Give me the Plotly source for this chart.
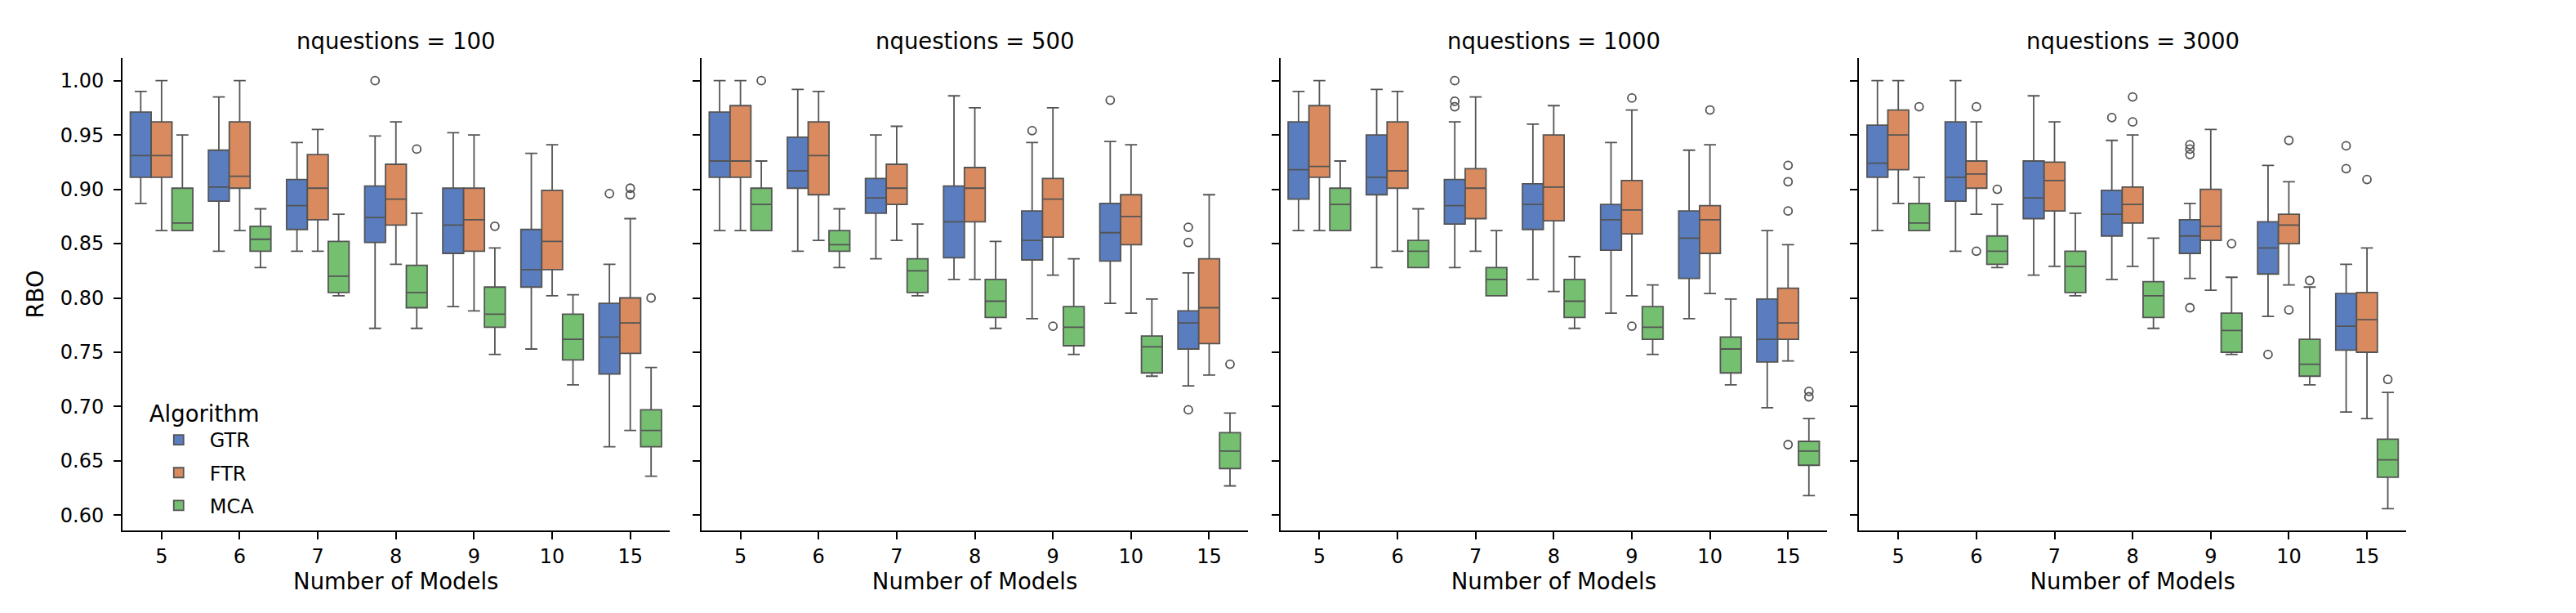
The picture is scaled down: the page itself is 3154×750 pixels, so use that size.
import plotly.graph_objects as go
from plotly.subplots import make_subplots

# ---------------- data ----------------
NQUESTIONS = [100, 500, 1000, 3000]
MODELS = ["5", "6", "7", "8", "9", "10", "15"]
ALGORITHMS = ["GTR", "FTR", "MCA"]
COLORS = {"GTR": "#597dbf", "FTR": "#d98b5f", "MCA": "#75bf71"}

# nquestions = 100
GTR_100 = dict(lo=[0.887, 0.843, 0.843, 0.772, 0.792, 0.753, 0.663],
               q1=[0.911, 0.889, 0.863, 0.851, 0.841, 0.810, 0.730],
               med=[0.931, 0.902, 0.885, 0.874, 0.867, 0.826, 0.764],
               q3=[0.971, 0.936, 0.909, 0.903, 0.901, 0.863, 0.795],
               hi=[0.990, 0.985, 0.943, 0.949, 0.952, 0.933, 0.831],
               out=[("8", 1.000), ("15", 0.896)])
FTR_100 = dict(lo=[0.862, 0.862, 0.843, 0.831, 0.788, 0.802, 0.678],
               q1=[0.911, 0.901, 0.872, 0.867, 0.843, 0.826, 0.749],
               med=[0.931, 0.912, 0.901, 0.891, 0.872, 0.852, 0.777],
               q3=[0.962, 0.962, 0.932, 0.923, 0.901, 0.899, 0.800],
               hi=[1.000, 1.000, 0.955, 0.962, 0.950, 0.941, 0.873],
               out=[("15", 0.901), ("15", 0.895)])
MCA_100 = dict(lo=[0.862, 0.828, 0.802, 0.772, 0.748, 0.720, 0.636],
               q1=[0.862, 0.843, 0.805, 0.791, 0.773, 0.743, 0.663],
               med=[0.869, 0.854, 0.820, 0.805, 0.785, 0.762, 0.678],
               q3=[0.901, 0.866, 0.852, 0.830, 0.810, 0.785, 0.697],
               hi=[0.950, 0.882, 0.877, 0.878, 0.846, 0.803, 0.736],
               out=[("8", 0.937), ("9", 0.866), ("15", 0.800)])

# nquestions = 500
GTR_500 = dict(lo=[0.862, 0.843, 0.836, 0.817, 0.781, 0.795, 0.719],
               q1=[0.911, 0.901, 0.878, 0.837, 0.835, 0.834, 0.753],
               med=[0.926, 0.917, 0.892, 0.870, 0.853, 0.860, 0.777],
               q3=[0.971, 0.948, 0.910, 0.903, 0.880, 0.887, 0.788],
               hi=[1.000, 0.992, 0.950, 0.986, 0.943, 0.944, 0.823],
               out=[("9", 0.954), ("10", 0.982), ("15", 0.865), ("15", 0.851), ("15", 0.697)])
FTR_500 = dict(lo=[0.862, 0.853, 0.853, 0.817, 0.821, 0.786, 0.729],
               q1=[0.911, 0.895, 0.886, 0.870, 0.856, 0.849, 0.758],
               med=[0.926, 0.931, 0.901, 0.901, 0.891, 0.875, 0.791],
               q3=[0.977, 0.962, 0.923, 0.920, 0.910, 0.895, 0.836],
               hi=[1.000, 0.990, 0.958, 0.975, 0.975, 0.941, 0.895],
               out=[("9", 0.774)])
MCA_500 = dict(lo=[0.862, 0.828, 0.802, 0.772, 0.748, 0.728, 0.627],
               q1=[0.862, 0.843, 0.805, 0.782, 0.756, 0.731, 0.643],
               med=[0.886, 0.849, 0.825, 0.797, 0.773, 0.755, 0.659],
               q3=[0.901, 0.862, 0.836, 0.817, 0.792, 0.765, 0.676],
               hi=[0.926, 0.882, 0.868, 0.852, 0.836, 0.799, 0.694],
               out=[("5", 1.000), ("15", 0.739)])

# nquestions = 1000
GTR_1000 = dict(lo=[0.862, 0.828, 0.828, 0.817, 0.786, 0.781, 0.699],
                q1=[0.891, 0.895, 0.868, 0.863, 0.844, 0.818, 0.741],
                med=[0.918, 0.911, 0.885, 0.886, 0.872, 0.855, 0.762],
                q3=[0.962, 0.950, 0.909, 0.905, 0.886, 0.880, 0.799],
                hi=[0.990, 0.992, 0.962, 0.960, 0.943, 0.936, 0.862],
                out=[("7", 1.000), ("7", 0.981), ("7", 0.976)])
FTR_1000 = dict(lo=[0.862, 0.843, 0.843, 0.806, 0.802, 0.804, 0.742],
                q1=[0.911, 0.901, 0.873, 0.871, 0.859, 0.841, 0.762],
                med=[0.921, 0.917, 0.901, 0.902, 0.881, 0.872, 0.777],
                q3=[0.977, 0.962, 0.919, 0.950, 0.908, 0.885, 0.809],
                hi=[1.000, 0.990, 0.985, 0.977, 0.973, 0.941, 0.849],
                out=[("9", 0.984), ("9", 0.774), ("10", 0.973),
                     ("15", 0.922), ("15", 0.907), ("15", 0.880), ("15", 0.665)])
MCA_1000 = dict(lo=[0.862, 0.828, 0.802, 0.772, 0.748, 0.720, 0.618],
                q1=[0.862, 0.828, 0.802, 0.782, 0.762, 0.731, 0.646],
                med=[0.886, 0.843, 0.817, 0.797, 0.773, 0.753, 0.659],
                q3=[0.901, 0.853, 0.828, 0.817, 0.792, 0.764, 0.668],
                hi=[0.926, 0.882, 0.862, 0.838, 0.812, 0.799, 0.689],
                out=[("15", 0.714), ("15", 0.709)])

# nquestions = 3000
GTR_3000 = dict(lo=[0.862, 0.843, 0.821, 0.817, 0.818, 0.783, 0.695],
                q1=[0.911, 0.889, 0.873, 0.857, 0.841, 0.822, 0.752],
                med=[0.924, 0.911, 0.892, 0.877, 0.857, 0.846, 0.774],
                q3=[0.959, 0.962, 0.926, 0.899, 0.872, 0.870, 0.804],
                hi=[1.000, 1.000, 0.986, 0.945, 0.887, 0.922, 0.831],
                out=[("8", 0.966), ("9", 0.941), ("9", 0.937), ("9", 0.932), ("9", 0.791),
                     ("10", 0.748), ("15", 0.940), ("15", 0.919)])
FTR_3000 = dict(lo=[0.887, 0.877, 0.829, 0.829, 0.807, 0.812, 0.689],
                q1=[0.918, 0.901, 0.880, 0.869, 0.853, 0.850, 0.750],
                med=[0.950, 0.914, 0.908, 0.886, 0.866, 0.867, 0.780],
                q3=[0.973, 0.926, 0.925, 0.902, 0.900, 0.877, 0.805],
                hi=[1.000, 0.962, 0.962, 0.950, 0.955, 0.907, 0.846],
                out=[("6", 0.976), ("6", 0.843), ("8", 0.985), ("8", 0.962),
                     ("10", 0.945), ("10", 0.789), ("15", 0.909)])
MCA_3000 = dict(lo=[0.862, 0.828, 0.802, 0.772, 0.748, 0.720, 0.606],
                q1=[0.862, 0.831, 0.805, 0.782, 0.750, 0.728, 0.635],
                med=[0.869, 0.843, 0.829, 0.802, 0.770, 0.739, 0.651],
                q3=[0.887, 0.857, 0.843, 0.815, 0.786, 0.762, 0.670],
                hi=[0.911, 0.886, 0.878, 0.855, 0.819, 0.810, 0.713],
                out=[("5", 0.976), ("6", 0.900), ("9", 0.850), ("10", 0.816), ("15", 0.725)])

PANELS = {
    100: {"GTR": GTR_100, "FTR": FTR_100, "MCA": MCA_100},
    500: {"GTR": GTR_500, "FTR": FTR_500, "MCA": MCA_500},
    1000: {"GTR": GTR_1000, "FTR": FTR_1000, "MCA": MCA_1000},
    3000: {"GTR": GTR_3000, "FTR": FTR_3000, "MCA": MCA_3000},
}
Y_TICKS = [0.60, 0.65, 0.70, 0.75, 0.80, 0.85, 0.90, 0.95, 1.00]

# ---------------- style ----------------
FONT = "DejaVu Sans"
EDGE = "#545454"
TICK_SIZE = 24
LABEL_SIZE = 27.5
GROUP_WIDTH = 0.8
BOX_W = GROUP_WIDTH / len(ALGORITHMS)

fig = make_subplots(rows=1, cols=4, shared_yaxes=True, horizontal_spacing=0.014)

cat_pos = list(range(len(MODELS)))
for c, nq in enumerate(NQUESTIONS, start=1):
    for j, alg in enumerate(ALGORITHMS):
        d = PANELS[nq][alg]
        off = (j - (len(ALGORITHMS) - 1) / 2) * BOX_W
        xs = [p + off for p in cat_pos]
        fig.add_trace(go.Box(
            x=xs, q1=d["q1"], median=d["med"], q3=d["q3"],
            lowerfence=d["lo"], upperfence=d["hi"],
            width=BOX_W, whiskerwidth=0.58, boxpoints=False,
            fillcolor=COLORS[alg], line=dict(color=EDGE, width=1.8),
            name=alg, legendgroup=alg, showlegend=(c == 1),
            hoverinfo="skip",
        ), row=1, col=c)
        ox = [MODELS.index(m) + off for m, _ in d["out"]]
        oy = [v for _, v in d["out"]]
        fig.add_trace(go.Scatter(
            x=ox, y=oy, mode="markers",
            marker=dict(symbol="circle-open", size=10, color=EDGE, line=dict(width=1.8, color=EDGE)),
            showlegend=False, legendgroup=alg, hoverinfo="skip",
        ), row=1, col=c)

W_TOTAL = 3154
L, R = 142, 216
PLOT_W = W_TOTAL - L - R
panel_w = 669.5 / PLOT_W
panel_step = 708.8 / PLOT_W
domains = []
for i in range(4):
    x0 = i * panel_step
    x1 = min(1.0, x0 + panel_w)
    domains.append((x0, x1))

axis_common = dict(showline=True, linecolor="black", linewidth=2, ticks="outside",
                   ticklen=9, tickwidth=2, tickcolor="black", showgrid=False, zeroline=False,
                   mirror=False, tickfont=dict(family=FONT, size=TICK_SIZE, color="black"))

annotations = []
for i, nq in enumerate(NQUESTIONS):
    sfx = "" if i == 0 else str(i + 1)
    fig.layout["xaxis" + sfx].update(
        domain=list(domains[i]), range=[-0.5, len(MODELS) - 0.5],
        tickmode="array", tickvals=cat_pos, ticktext=MODELS,
        title=dict(text="Number of Models", font=dict(family=FONT, size=LABEL_SIZE, color="black"), standoff=7),
        **axis_common)
    fig.layout["yaxis" + sfx].update(
        range=[0.586, 1.0208], tickmode="array", tickvals=Y_TICKS,
        tickformat=".2f", showticklabels=(i == 0), ticklabelstandoff=7, **axis_common)
    annotations.append(dict(
        text=f"nquestions = {nq}", x=(domains[i][0] + domains[i][1]) / 2, y=1,
        xref="paper", yref="paper", xanchor="center", yanchor="middle", yshift=21,
        showarrow=False, font=dict(family=FONT, size=LABEL_SIZE, color="black")))

fig.layout.yaxis.title = dict(text="RBO", font=dict(family=FONT, size=LABEL_SIZE, color="black"), standoff=12)

fig.update_layout(
    width=W_TOTAL, height=750,
    margin=dict(l=L, r=R, t=63, b=109, pad=0),
    plot_bgcolor="white", paper_bgcolor="white",
    font=dict(family=FONT, size=TICK_SIZE, color="black"),
    annotations=annotations,
    showlegend=True,
    legend=dict(
        title=dict(text="Algorithm", font=dict(family=FONT, size=LABEL_SIZE, color="black")),
        font=dict(family=FONT, size=TICK_SIZE, color="black"),
        x=0.011, y=0.292, xanchor="left", yanchor="top",
        bgcolor="rgba(0,0,0,0)", borderwidth=0, itemwidth=66, tracegroupgap=6,
    ),
)

fig.write_html("out.html")
